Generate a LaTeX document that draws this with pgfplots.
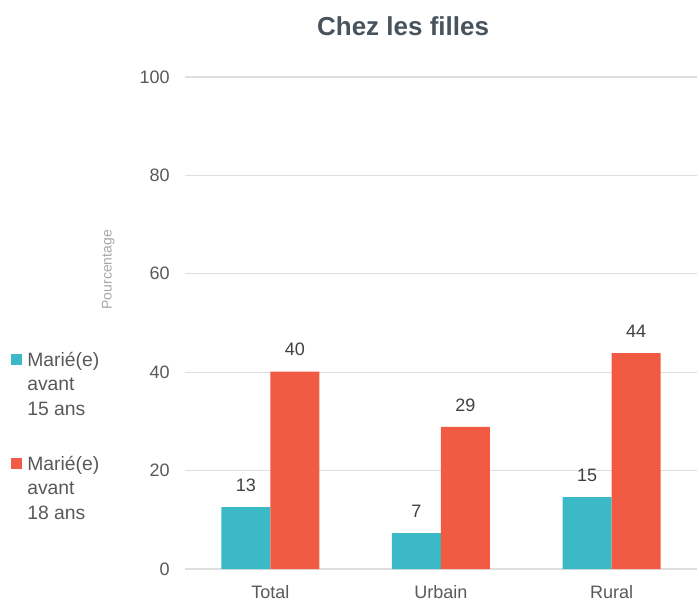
\documentclass[border=0pt]{standalone}
\usepackage{pgfplots}
\pgfplotsset{compat=1.18}
\usepackage{fontspec}
\setmainfont{Liberation Sans}
\definecolor{teal1}{HTML}{3BB9C6}
\definecolor{red1}{HTML}{F15B43}
\definecolor{gridc}{HTML}{DEDEDE}
\definecolor{txt}{HTML}{595959}
\definecolor{lbl}{HTML}{404040}
\definecolor{ttl}{HTML}{48535C}
\definecolor{ylab}{HTML}{A6A6A6}
\begin{document}
\begin{tikzpicture}
\path[use as bounding box] (-138.75pt,-24pt) rectangle (384pt,426.75pt);
\begin{axis}[
  at={(0,0)}, anchor=south west,
  scale only axis, width=384pt, height=369pt,
  ybar=0pt, bar width=36.75pt,
  xmin=-0.5, xmax=2.5, ymin=0, ymax=100,
  xtick={0,1,2}, xticklabels={Total,Urbain,Rural},
  ytick={0,20,40,60,80,100},
  ymajorgrids, grid style={gridc, line width=0.8pt},
  axis line style={draw=none},
  major tick length=0pt, tick style={draw=none},
  /pgf/number format/assume math mode=true,
  tick label style={font=\fontsize{13.5}{16}\selectfont, text=txt},
  xticklabel style={inner sep=0pt, anchor=north, yshift=-12pt},
  yticklabel style={inner sep=0pt, anchor=east, xshift=-11.25pt},
  ylabel={Pourcentage},
  ylabel style={at={(axis description cs:-0.150,0.608)}, anchor=center, rotate=0, font=\fontsize{10.5}{12}\selectfont, text=ylab},
  title={\bfseries Chez les filles},
  title style={at={(axis description cs:0.426,1.069)}, anchor=base, yshift=0pt, font=\fontsize{19.5}{22}\selectfont, text=ttl},
  nodes near coords,
  nodes near coords style={anchor=south, inner sep=0pt, yshift=11.5pt, font=\fontsize{13.5}{16}\selectfont, text=lbl, /pgf/number format/.cd, fixed, precision=0, assume math mode=true},
]
\addplot[fill=teal1, draw=none] coordinates {(0,12.6) (1,7.3) (2,14.6)};
\addplot[fill=red1, draw=none] coordinates {(0,40.1) (1,28.9) (2,43.9)};
\end{axis}
\fill[teal1] (-130.5pt,153pt) rectangle (-122.5pt,161.25pt);
\fill[red1] (-130.5pt,75pt) rectangle (-122.5pt,83.25pt);
\node[anchor=base west, inner sep=0pt, text=txt, font=\fontsize{14.5}{18.4}\selectfont] at (-118.5pt,152.25pt)
  {\begin{tabular}[t]{@{}l@{}}Marié(e)\\avant\\15 ans\end{tabular}};
\node[anchor=base west, inner sep=0pt, text=txt, font=\fontsize{14.5}{18.4}\selectfont] at (-118.5pt,74.25pt)
  {\begin{tabular}[t]{@{}l@{}}Marié(e)\\avant\\18 ans\end{tabular}};
\end{tikzpicture}
\end{document}
